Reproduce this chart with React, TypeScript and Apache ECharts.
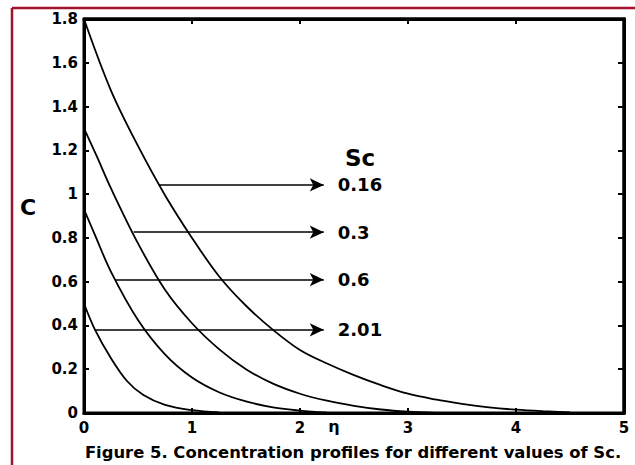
import React, { useEffect, useRef } from "react";
import * as echarts from "echarts";

// ---- data ----
const xTicks = [0, 1, 2, 3, 4, 5];
const yTicks = [0, 0.2, 0.4, 0.6, 0.8, 1, 1.2, 1.4, 1.6, 1.8];

const eta1 = [0, 0.25, 0.5, 0.75, 1, 1.25, 1.5, 1.75, 2, 2.25, 2.5, 2.75, 3, 3.25, 3.5, 3.75, 4, 4.25, 4.5];
const cSc016 = [1.8, 1.473, 1.22, 0.995, 0.8, 0.625, 0.49, 0.38, 0.288, 0.226, 0.173, 0.127, 0.088, 0.062, 0.042, 0.026, 0.015, 0.008, 0.003];

const eta2 = [0, 0.12, 0.25, 0.5, 0.75, 1, 1.25, 1.5, 1.75, 2, 2.25, 2.5, 2.75, 3, 3.25];
const cSc03 = [1.3, 1.171, 1.026, 0.775, 0.563, 0.41, 0.292, 0.2, 0.134, 0.088, 0.056, 0.033, 0.016, 0.006, 0.001];

const eta3 = [0, 0.1, 0.25, 0.5, 0.75, 1, 1.25, 1.5, 1.75, 2, 2.25];
const cSc06 = [0.93, 0.815, 0.645, 0.425, 0.268, 0.162, 0.095, 0.053, 0.026, 0.011, 0.002];

const eta4 = [0, 0.1, 0.25, 0.4, 0.55, 0.75, 1, 1.25];
const cSc201 = [0.5, 0.382, 0.25, 0.145, 0.082, 0.037, 0.013, 0.003];

const scLabels = ["0.16", "0.3", "0.6", "2.01"];
const arrowY = [1.042, 0.826, 0.609, 0.38];
const arrowStartX = [0.69, 0.46, 0.29, 0.1];
const arrowEndX = 2.22;

const X_MAX = 5;
const Y_MAX = 1.8;

const FONT = "DejaVu Sans";
const FRAME = "#a3122b";

function axisLine(width: number) {
  return { show: true, onZero: false, lineStyle: { color: "#000", width } };
}
function axisTick(length: number) {
  return { show: true, inside: true, length, lineStyle: { color: "#000", width: 2 } };
}

export default function App() {
  const ref = useRef<HTMLDivElement>(null);

  useEffect(() => {
    if (!ref.current) return;
    const chart = echarts.init(ref.current, undefined, { renderer: "svg" });

    const curves = [
      [eta1, cSc016],
      [eta2, cSc03],
      [eta3, cSc06],
      [eta4, cSc201],
    ];

    const series: any[] = curves.map(([xs, ys], i) => ({
      type: "line",
      name: "Sc=" + scLabels[i],
      xAxisIndex: 0,
      yAxisIndex: 0,
      data: xs.map((x, k) => [x, ys[k]]),
      showSymbol: false,
      symbol: "none",
      smooth: 0.35,
      lineStyle: { color: "#000", width: 1.8 },
      z: 3,
      markLine: {
        silent: true,
        symbol: ["none", "arrow"],
        symbolSize: [10, 14],
        lineStyle: { color: "#000", width: 1.6, type: "solid" },
        label: {
          show: true,
          position: "end",
          distance: 14,
          formatter: scLabels[i],
          color: "#000",
          fontSize: 18,
          fontWeight: "bold",
          fontFamily: FONT,
        },
        data: [[{ coord: [arrowStartX[i], arrowY[i]] }, { coord: [arrowEndX, arrowY[i]] }]],
      },
    }));

    const axisLabelStyle = {
      color: "#000",
      fontSize: 15,
      fontWeight: "bold",
      fontFamily: FONT,
    };

    chart.setOption({
      animation: false,
      grid: {
        left: 84,
        top: 19,
        right: 11,
        bottom: 52,
        show: true,
        borderColor: "#000",
        borderWidth: 3,
        backgroundColor: "rgba(0,0,0,0)",
      },
      xAxis: [
        {
          type: "value",
          position: "bottom",
          min: 0,
          max: X_MAX,
          interval: 1,
          axisLine: axisLine(3),
          axisTick: axisTick(5),
          axisLabel: {
            ...axisLabelStyle,
            margin: 7,
            formatter: (v: number) => (xTicks.includes(v) ? String(v) : ""),
          },
          splitLine: { show: false },
        },
        {
          type: "value",
          position: "top",
          min: 0,
          max: X_MAX,
          interval: 1,
          axisLine: axisLine(3),
          axisTick: axisTick(5),
          axisLabel: { show: false },
          splitLine: { show: false },
        },
      ],
      yAxis: [
        {
          type: "value",
          position: "left",
          min: 0,
          max: Y_MAX,
          interval: 0.2,
          axisLine: axisLine(3),
          axisTick: axisTick(5),
          axisLabel: {
            ...axisLabelStyle,
            margin: 6,
            formatter: (v: number) => {
              const r = +v.toFixed(1);
              return yTicks.includes(r) ? String(r) : "";
            },
          },
          splitLine: { show: false },
        },
        {
          type: "value",
          position: "right",
          min: 0,
          max: Y_MAX,
          interval: 0.2,
          axisLine: axisLine(3),
          axisTick: axisTick(6),
          axisLabel: { show: false },
          splitLine: { show: false },
        },
      ],
      series,
      graphic: [
        {
          id: "frameTop",
          type: "line",
          shape: { x1: 12, y1: 8, x2: 635, y2: 8 },
          style: { stroke: FRAME, lineWidth: 2.5 },
          silent: true,
        },
        {
          id: "frameLeft",
          type: "line",
          shape: { x1: 12, y1: 8, x2: 12, y2: 465 },
          style: { stroke: FRAME, lineWidth: 2.5 },
          silent: true,
        },
        {
          id: "cLabel",
          type: "text",
          x: 28,
          y: 207,
          style: {
            text: "C",
            fill: "#000",
            font: `bold 22px "${FONT}"`,
            align: "center",
            verticalAlign: "middle",
          },
        },
        {
          id: "scLabel",
          type: "text",
          x: 345,
          y: 158,
          style: {
            text: "Sc",
            fill: "#000",
            font: `bold 23px "${FONT}"`,
            align: "left",
            verticalAlign: "middle",
          },
        },
        {
          id: "etaLabel",
          type: "text",
          x: 334,
          y: 426,
          style: {
            text: "η",
            fill: "#000",
            font: `bold 16px "${FONT}"`,
            align: "center",
            verticalAlign: "middle",
          },
        },
        {
          id: "caption",
          type: "text",
          x: 353,
          y: 452,
          style: {
            text: "Figure 5. Concentration profiles for different values of Sc.",
            fill: "#000",
            font: `bold 16.4px "${FONT}"`,
            align: "center",
            verticalAlign: "middle",
          },
        },
      ],
    });

    // plot-box top / right edges and top ticks, positioned through the axes' own scale
    const p00 = chart.convertToPixel({ gridIndex: 0 }, [0, 0]) as number[];
    const pMM = chart.convertToPixel({ gridIndex: 0 }, [X_MAX, Y_MAX]) as number[];
    if (p00 && pMM) {
      const [x0, y0] = p00;
      const [x1, y1] = pMM;
      const extra: any[] = [
        {
          id: "boxTopRight",
          type: "polyline",
          shape: { points: [[x0, y1], [x1, y1], [x1, y0]] },
          style: { stroke: "#000", lineWidth: 3, fill: "none" },
          silent: true,
          z: 50,
        },
      ];
      xTicks.slice(1, -1).forEach((t, k) => {
        const px = chart.convertToPixel({ gridIndex: 0 }, [t, Y_MAX]) as number[];
        extra.push({
          id: "topTick" + k,
          type: "line",
          shape: { x1: px[0], y1: y1, x2: px[0], y2: y1 + 5 },
          style: { stroke: "#000", lineWidth: 2 },
          silent: true,
          z: 50,
        });
      });
      chart.setOption({ graphic: extra });
    }

    return () => chart.dispose();
  }, []);

  return (
    <div
      ref={ref}
      style={{ position: "absolute", left: 0, top: 0, width: 635, height: 465, background: "#fff" }}
    />
  );
}
